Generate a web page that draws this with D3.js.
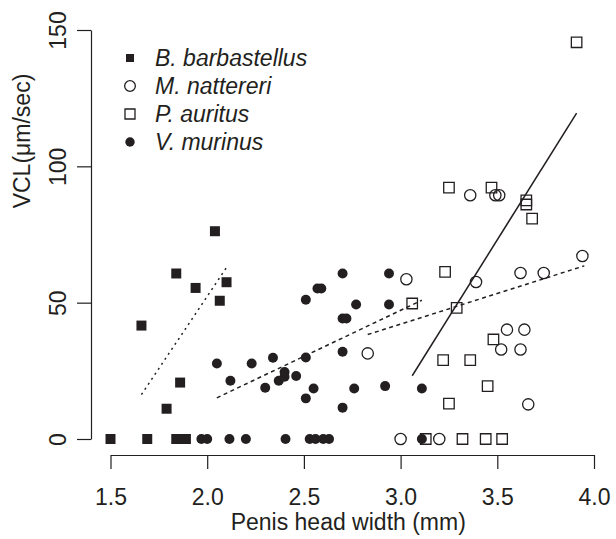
<!DOCTYPE html>
<html>

<style>
body { margin: 0; background: white; }
text { font-family: "Liberation Sans", Arial, sans-serif; fill: #231f20; }
.legend text { font-style: italic; }
</style>

<head>
  <script src="https://d3js.org/d3.v7.min.js"></script>
</head>

<body>

<div id="chart"></div>

<script>
// values (x = penis head width in mm, y = VCL)
var barbX = [1.50, 1.69, 1.84, 1.865, 1.89, 1.79, 1.86, 1.66, 1.84, 1.94, 2.04, 2.065, 2.10];
var barbY = [0, 0, 0, 0, 0, 11.1, 20.7, 41.6, 60.7, 55.4, 76.2, 50.7, 57.5];

var nattX = [3.00, 3.20, 2.83, 3.03, 3.39, 3.62, 3.74, 3.94, 3.55, 3.64, 3.52, 3.62, 3.66, 3.36, 3.49, 3.51];
var nattY = [0, 0, 31.4, 58.6, 57.6, 60.9, 60.9, 67.1, 40.1, 40.1, 32.8, 32.8, 12.7, 89.4, 89.4, 89.4];

var aurX = [3.13, 3.32, 3.44, 3.525, 3.25, 3.22, 3.36, 3.45, 3.48, 3.29, 3.06, 3.23, 3.68, 3.65, 3.65, 3.25, 3.47, 3.91];
var aurY = [0, 0, 0, 0, 13.0, 28.9, 28.9, 19.4, 36.5, 48.1, 49.7, 61.3, 80.8, 86.0, 87.5, 92.2, 92.2, 145.5];

var murX = [1.97, 2.00, 2.115, 2.20, 2.405, 2.53, 2.56, 2.60, 2.63, 3.11,
            2.05, 2.12, 2.23, 2.30, 2.34, 2.37, 2.40, 2.40, 2.46, 2.51, 2.51, 2.55,
            2.51, 2.57, 2.59, 2.70, 2.70, 2.72, 2.70, 2.70, 2.76, 2.77, 2.92, 2.94, 2.94, 3.11];
var murY = [0, 0, 0, 0, 0, 0, 0, 0, 0, 0,
            27.7, 21.4, 27.7, 18.8, 29.8, 21.4, 24.6, 22.8, 23.1, 29.9, 14.9, 18.5,
            51.1, 55.2, 55.2, 60.7, 44.2, 44.2, 32.0, 11.5, 18.5, 49.3, 19.4, 60.7, 49.3, 18.5];

// fitted lines: [x start, y start, x end, y end]
var barbFit = [1.66, 16.3, 2.10, 62.9];
var murFit = [2.05, 15.1, 3.11, 50.9];
var nattFit = [2.83, 38.3, 3.95, 63.5];
var aurFit = [3.06, 23.2, 3.91, 119.5];

var species = ["B. barbastellus", "M. nattereri", "P. auritus", "V. murinus"];
var xTicks = [1.5, 2.0, 2.5, 3.0, 3.5, 4.0];
var yTicks = [0, 50, 100, 150];

const width = 616;
const height = 539;
var ink = "#231f20";

var svg = d3.select("#chart")
  .append("svg")
    .attr("width", width)
    .attr("height", height);

var xScale = d3.scaleLinear()
    .domain([1.5, 4.0])
    .range([110.5, 594]);

var yScale = d3.scaleLinear()
    .domain([0, 150])
    .range([439, 30]);

// axes, R style (not joined at the corner)
var xAxis = svg.append("g")
    .attr("transform", "translate(0,455)")
    .call(d3.axisBottom(xScale).tickValues(xTicks).tickFormat(d3.format(".1f")).tickSize(14).tickSizeOuter(0));

var yAxis = svg.append("g")
    .attr("transform", "translate(91,0)")
    .call(d3.axisLeft(yScale).tickValues(yTicks).tickSize(14).tickSizeOuter(0));

svg.selectAll(".domain, .tick line").attr("stroke", ink).attr("stroke-width", 1.2);

xAxis.selectAll(".tick text")
    .attr("font-size", 23)
    .attr("dy", 0)
    .attr("y", 50);

yAxis.selectAll(".tick text")
    .attr("font-size", 23)
    .attr("x", 0)
    .attr("dy", 0)
    .attr("text-anchor", "middle")
    .attr("transform", "translate(-25,0) rotate(-90)");

svg.selectAll(".tick text").attr("fill", ink);

// axis titles
svg.append("text")
    .attr("x", (xScale(1.5) + xScale(4.0)) / 2 - 4)
    .attr("y", 530)
    .attr("text-anchor", "middle")
    .attr("font-size", 23)
    .text("Penis head width (mm)");

svg.append("text")
    .attr("transform", "translate(30,141) rotate(-90)")
    .attr("text-anchor", "middle")
    .attr("font-size", 23)
    .text("VCL(\u03bcm/sec)");

// fit lines
function fitLine(f, dash) {
  svg.append("line")
    .attr("x1", xScale(f[0]))
    .attr("y1", yScale(f[1]))
    .attr("x2", xScale(f[2]))
    .attr("y2", yScale(f[3]))
    .attr("stroke", ink)
    .attr("stroke-width", 1.5)
    .attr("stroke-dasharray", dash);
}
fitLine(barbFit, "2,4");
fitLine(murFit, "4,3.5");
fitLine(nattFit, "4,3.5");
fitLine(aurFit, null);

// points
var symSquare = d3.symbol().type(d3.symbolSquare);
var symCircle = d3.symbol().type(d3.symbolCircle);

function filled(kind) { return kind == "fsq" || kind == "fci"; }

function marker(kind) {
  if (kind == "fsq") return symSquare.size(100)();
  if (kind == "osq") return symSquare.size(110)();
  if (kind == "oci") return symCircle.size(100)();
  return symCircle.size(78)();
}

function drawPoints(xs, ys, kind) {
  var pts = d3.zip(xs, ys);
  svg.append("g").selectAll("path")
    .data(pts)
    .enter().append("path")
      .attr("transform", function(d) { return "translate(" + xScale(d[0]) + "," + yScale(d[1]) + ")"; })
      .attr("d", marker(kind))
      .attr("fill", filled(kind) ? ink : "none")
      .attr("stroke", filled(kind) ? "none" : ink)
      .attr("stroke-width", 1.3);
}

drawPoints(murX, murY, "fci");
drawPoints(barbX, barbY, "fsq");
drawPoints(nattX, nattY, "oci");
drawPoints(aurX, aurY, "osq");

// legend
var kinds = ["fsq", "oci", "osq", "fci"];
var legend = svg.append("g").attr("class", "legend");
var legY = d3.scalePoint().domain(species).range([58, 142]);

legend.selectAll("path")
  .data(species)
  .enter().append("path")
    .attr("transform", function(d) { return "translate(130," + legY(d) + ")"; })
    .attr("d", function(d, i) {
      var k = kinds[i];
      if (k == "fsq") return symSquare.size(64)();
      if (k == "osq") return symSquare.size(100)();
      if (k == "oci") return symCircle.size(90)();
      return symCircle.size(70)();
    })
    .attr("fill", function(d, i) { return filled(kinds[i]) ? ink : "none"; })
    .attr("stroke", function(d, i) { return filled(kinds[i]) ? "none" : ink; })
    .attr("stroke-width", 1.3);

legend.selectAll("text")
  .data(species)
  .enter().append("text")
    .attr("x", 155)
    .attr("y", function(d) { return legY(d) + 8; })
    .attr("font-size", 23)
    .text(function(d) { return d; });

</script>
</body>
</html>
